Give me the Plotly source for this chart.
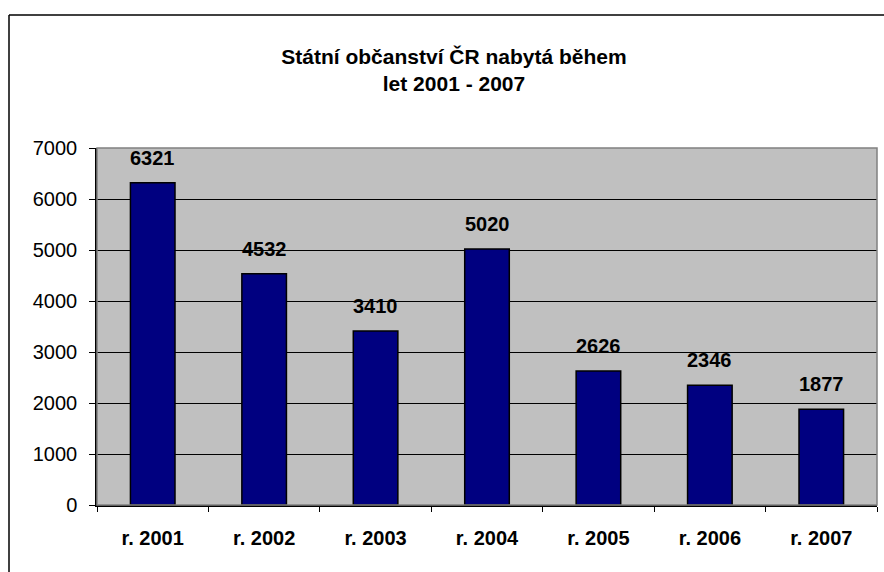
import plotly.graph_objects as go

categories = ["r. 2001", "r. 2002", "r. 2003", "r. 2004", "r. 2005", "r. 2006", "r. 2007"]
values = [6321, 4532, 3410, 5020, 2626, 2346, 1877]
y_ticks = [0, 1000, 2000, 3000, 4000, 5000, 6000, 7000]
title_text = "Státní občanství ČR nabytá během<br>let 2001 - 2007"

W, H = 884, 572
L, R, T, B = 97, 7, 148, 67
pw, ph = W - L - R, H - T - B

font = "Liberation Sans, Arial, sans-serif"

fig = go.Figure()
fig.add_trace(go.Bar(
    x=categories, y=values,
    marker=dict(color="#000080", line=dict(color="#000000", width=1.5)),
    hoverinfo="x+y",
))

for c, v in zip(categories, values):
    fig.add_annotation(x=c, y=v, text=f"<b>{v}</b>", showarrow=False,
                       yanchor="middle", yshift=25,
                       font=dict(family=font, size=20, color="#000"))

# outer chart border (left and top visible)
bx = (9 - L) / pw
by = 1 + (T - 15) / ph
fig.add_shape(type="line", xref="paper", yref="paper", x0=bx, x1=bx, y0=-1, y1=by,
              line=dict(color="#000", width=1.5))
fig.add_shape(type="line", xref="paper", yref="paper", x0=bx, x1=1.5, y0=by, y1=by,
              line=dict(color="#000", width=1.5))
# plot area border
fig.add_shape(type="rect", xref="paper", yref="paper", x0=0, x1=1, y0=0, y1=1,
              line=dict(color="#808080", width=1.5), layer="above")

fig.update_layout(
    width=W, height=H,
    margin=dict(l=L, r=R, t=T, b=B, pad=0),
    paper_bgcolor="#ffffff",
    plot_bgcolor="#C0C0C0",
    bargap=0.6,
    showlegend=False,
    title=dict(text=f"<b>{title_text}</b>", x=454 / W, xanchor="center",
               y=1 - 64 / H, yanchor="middle",
               font=dict(family=font, size=21, color="#000")),
    font=dict(family=font, size=20, color="#000"),
)
fig.update_yaxes(range=[0, 7000], tickvals=y_ticks, showgrid=True,
                 gridcolor="#000000", gridwidth=1,
                 ticks="outside", ticklen=6, tickcolor="#000", tickwidth=1,
                 showline=True, linecolor="#000", linewidth=1.5,
                 zeroline=False, ticklabelstandoff=8,
                 tickfont=dict(family=font, size=20, color="#000"))
fig.update_xaxes(type="category", tickson="boundaries", ticks="outside",
                 ticklen=5, tickcolor="#000", tickwidth=1,
                 showline=True, linecolor="#000", linewidth=1.5,
                 showgrid=False, ticklabelstandoff=14,
                 tickvals=categories, ticktext=[f"<b>{c}</b>" for c in categories],
                 tickfont=dict(family=font, size=20, color="#000"))

fig.write_html("out.html", config={"displayModeBar": False},
               post_script="document.body.style.margin='0';document.body.style.overflow='hidden';")
